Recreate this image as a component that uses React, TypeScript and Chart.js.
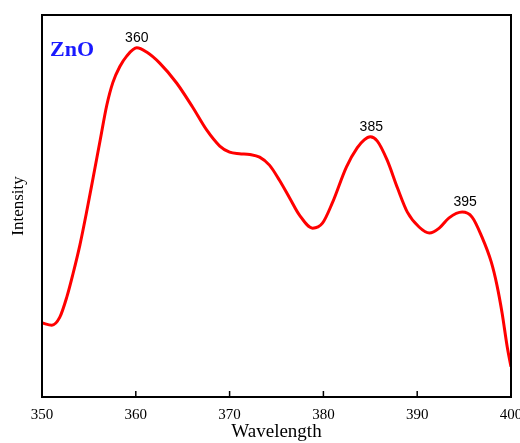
import React, { useEffect, useRef } from "react";
import { Chart, registerables } from "chart.js";

Chart.register(...registerables);

const wavelength = [
  350.0, 351.05, 351.9, 352.65, 353.3, 354.05, 354.8, 355.45, 356.2, 356.9, 357.55,
  358.3, 359.05, 360.1, 361.15, 362.55, 364.35, 366.05, 367.55, 368.95, 370.0,
  371.05, 372.15, 373.2, 374.25, 375.3, 376.4, 377.45, 378.85, 379.9, 380.95,
  382.45, 383.6, 384.35, 385.0, 385.75, 386.8, 387.9, 388.95, 390.2, 391.3,
  392.35, 393.4, 394.8, 395.85, 396.9, 397.9, 398.5, 399.05, 399.6, 400.0,
];
const intensity = [
  19.4, 18.8, 20.9, 26.2, 32.2, 39.9, 49.0, 57.4, 67.2, 76.3, 82.3,
  86.5, 89.3, 91.4, 90.3, 87.4, 82.2, 75.9, 69.9, 65.7, 64.1,
  63.7, 63.5, 62.8, 60.7, 56.8, 52.1, 47.6, 44.2, 45.5, 50.8,
  60.2, 65.2, 67.3, 68.1, 67.0, 62.0, 54.7, 48.4, 44.5, 42.9,
  44.2, 46.9, 48.4, 47.1, 41.9, 35.3, 29.3, 22.0, 13.1, 7.9,
];
const peakWavelengths = [360, 385, 395];
const peakLabels = ["360", "385", "395"];
const xTicks = [350, 360, 370, 380, 390, 400];
const sampleLabel = "ZnO";
const xTitle = "Wavelength";
const yTitle = "Intensity";

export default function App() {
  const ref = useRef<HTMLCanvasElement | null>(null);

  useEffect(() => {
    const canvas = ref.current;
    if (!canvas) return;

    const decor = {
      id: "decor",
      afterDatasetsDraw(chart: any) {
        const { ctx, chartArea } = chart;
        const xs = chart.scales.x;
        const ys = chart.scales.y;
        ctx.save();
        ctx.strokeStyle = "#000";
        ctx.lineWidth = 2;
        ctx.strokeRect(chartArea.left, chartArea.top, chartArea.right - chartArea.left, chartArea.bottom - chartArea.top);
        ctx.lineWidth = 1.5;
        xTicks.forEach((t) => {
          if (t === 350 || t === 400) return;
          const px = xs.getPixelForValue(t);
          ctx.beginPath();
          ctx.moveTo(px, chartArea.bottom);
          ctx.lineTo(px, chartArea.bottom - 6);
          ctx.stroke();
        });
        ctx.fillStyle = "#000";
        ctx.font = "14px 'Liberation Sans'";
        ctx.textAlign = "center";
        ctx.textBaseline = "bottom";
        peakWavelengths.forEach((w, i) => {
          let best = 0;
          wavelength.forEach((v, j) => {
            if (Math.abs(v - w) < Math.abs(wavelength[best] - w)) best = j;
          });
          const px = xs.getPixelForValue(w);
          const py = ys.getPixelForValue(intensity[best]);
          ctx.fillText(peakLabels[i], px + 1, py - 3);
        });
        ctx.fillStyle = "#1a1aff";
        ctx.font = "bold 22px 'Liberation Serif'";
        ctx.textAlign = "left";
        ctx.textBaseline = "middle";
        ctx.fillText(sampleLabel, 50, 50);
        ctx.restore();
      },
    };

    const chart = new Chart(canvas, {
      type: "line",
      data: {
        datasets: [
          {
            data: wavelength.map((w, i) => ({ x: w, y: intensity[i] })),
            borderColor: "#ff0000",
            borderWidth: 3,
            pointRadius: 0,
            cubicInterpolationMode: "monotone",
            fill: false,
          },
        ],
      },
      options: {
        animation: false,
        responsive: false,
        maintainAspectRatio: false,
        layout: { padding: { top: 15, right: 9, left: 0, bottom: 0 } },
        plugins: { legend: { display: false }, tooltip: { enabled: false } },
        scales: {
          x: {
            type: "linear",
            min: 350,
            max: 400,
            afterBuildTicks: (scale: any) => {
              scale.ticks = xTicks.map((v) => ({ value: v }));
            },
            afterFit: (scale: any) => {
              scale.height = 46;
              scale.paddingLeft = 0;
              scale.paddingRight = 0;
            },
            grid: { display: false, drawTicks: false },
            border: { display: false },
            ticks: {
              padding: 9,
              color: "#000",
              maxRotation: 0,
              autoSkip: false,
              font: { family: "'Liberation Serif'", size: 15 },
            },
            title: {
              display: true,
              text: xTitle,
              color: "#000",
              padding: { top: 0, bottom: 0 },
              font: { family: "'Liberation Serif'", size: 19 },
            },
          },
          y: {
            min: 0,
            max: 100,
            afterFit: (scale: any) => {
              scale.width = 42;
              scale.paddingTop = 0;
              scale.paddingBottom = 0;
            },
            grid: { display: false, drawTicks: false },
            border: { display: false },
            ticks: { display: false },
            title: {
              display: true,
              text: yTitle,
              color: "#000",
              padding: { top: 8, bottom: 0 },
              font: { family: "'Liberation Serif'", size: 17 },
            },
          },
        },
      },
      plugins: [decor],
    });
    return () => chart.destroy();
  }, []);

  return (
    <div style={{ position: "fixed", left: 0, top: 0, width: 520, height: 443, background: "#fff" }}>
      <canvas ref={ref} width={520} height={443} style={{ width: 520, height: 443, display: "block" }} />
    </div>
  );
}
